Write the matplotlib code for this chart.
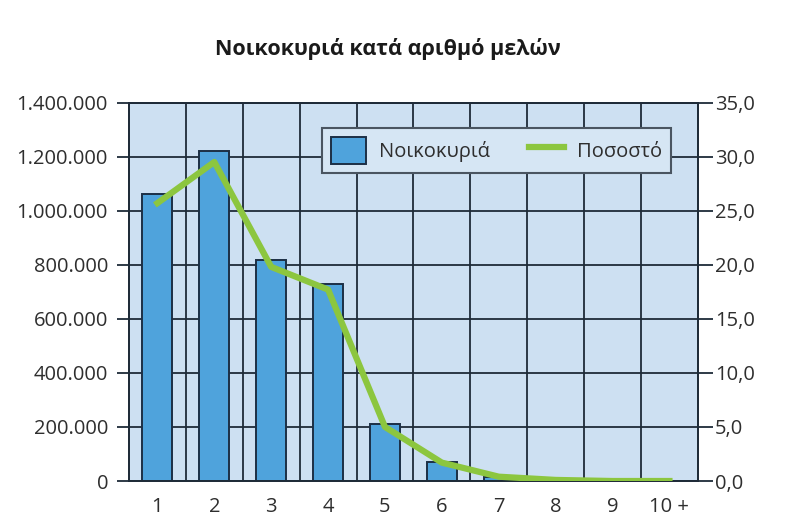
import numpy as np
import matplotlib.pyplot as plt
import matplotlib.ticker as ticker
import matplotlib.patches as mpatches
import matplotlib.lines as mlines

plt.rcParams['font.family'] = ['Open Sans', 'DejaVu Sans']

members = ['1', '2', '3', '4', '5', '6', '7', '8', '9', '10 +']
households = [1063000, 1220000, 818000, 730000, 211000, 69000, 16000, 4000, 1500, 800]
percent = [25.7, 29.5, 19.8, 17.7, 5.0, 1.7, 0.4, 0.1, 0.0, 0.0]

bar_color = '#4fa3dc'
edge_color = '#1c2f45'
line_color = '#8cc63f'
bg_color = '#cde0f2'
grid_color = '#1e2b38'
text_color = '#2e2e2e'

fig = plt.figure(figsize=(7.85, 5.17), dpi=100)
ax = fig.add_axes([0.1643, 0.0696, 0.7247, 0.7321])
ax.set_facecolor(bg_color)

x = np.arange(1, len(members) + 1)
ax.bar(x, households, width=0.53, color=bar_color, edgecolor=edge_color, linewidth=1.4, zorder=3)

ax.set_xlim(0.5, len(members) + 0.5)
ax.set_ylim(0, 1400000)
ax.set_yticks(np.arange(0, 1400001, 200000))
ax.yaxis.set_major_formatter(ticker.FuncFormatter(lambda v, p: format(int(v), ',').replace(',', '.')))
ax.set_xticks(x)
ax.set_xticklabels(members)
ax.set_xticks(np.arange(1.5, len(members), 1), minor=True)

ax.grid(axis='y', which='major', color=grid_color, linewidth=1.3, zorder=1)
ax.grid(axis='x', which='minor', color=grid_color, linewidth=1.3, zorder=1)
ax.set_axisbelow(True)

ax.tick_params(axis='y', length=8.6, width=1.3, color=grid_color, labelsize=14.5, labelcolor=text_color, pad=6.5)
ax.tick_params(axis='x', which='both', length=0, labelsize=14.5, labelcolor=text_color, pad=11.5)
for spine in ax.spines.values():
    spine.set_color(grid_color)
    spine.set_linewidth(1.3)

ax2 = ax.twinx()
ax2.plot(x, percent, color=line_color, linewidth=4.5, solid_joinstyle='round', zorder=4)
ax2.set_ylim(0, 35)
ax2.set_yticks(np.arange(0, 35.1, 5))
ax2.yaxis.set_major_formatter(ticker.FuncFormatter(lambda v, p: f'{v:.1f}'.replace('.', ',')))
ax2.tick_params(axis='y', length=10.8, width=1.3, color=grid_color, labelsize=14.5, labelcolor=text_color, pad=1.5)
for spine in ax2.spines.values():
    spine.set_color(grid_color)
    spine.set_linewidth(1.3)

handles = [
    mpatches.Patch(facecolor=bar_color, edgecolor=edge_color, linewidth=1.4, label='Νοικοκυριά'),
    mlines.Line2D([], [], color=line_color, linewidth=4.5, label='Ποσοστό'),
]
leg = ax2.legend(handles=handles, ncol=2, loc='upper right', bbox_to_anchor=(0.9525, 0.9326),
                 borderaxespad=0, fontsize=14.5, frameon=True, fancybox=False,
                 handlelength=1.74, handleheight=1.7, columnspacing=1.9,
                 borderpad=0.45, handletextpad=0.65)
leg.get_frame().set_facecolor('#d6e6f4')
leg.get_frame().set_edgecolor('#4a5561')
leg.get_frame().set_linewidth(1.5)
leg.get_frame().set_alpha(1)
for t in leg.get_texts():
    t.set_color(text_color)

fig.text(0.4936, 0.905, 'Νοικοκυριά κατά αριθμό μελών', ha='center', va='center',
         fontsize=15.5, fontweight='bold', color='#1a1a1a')

fig.savefig('out.png', dpi=100, facecolor='white')
